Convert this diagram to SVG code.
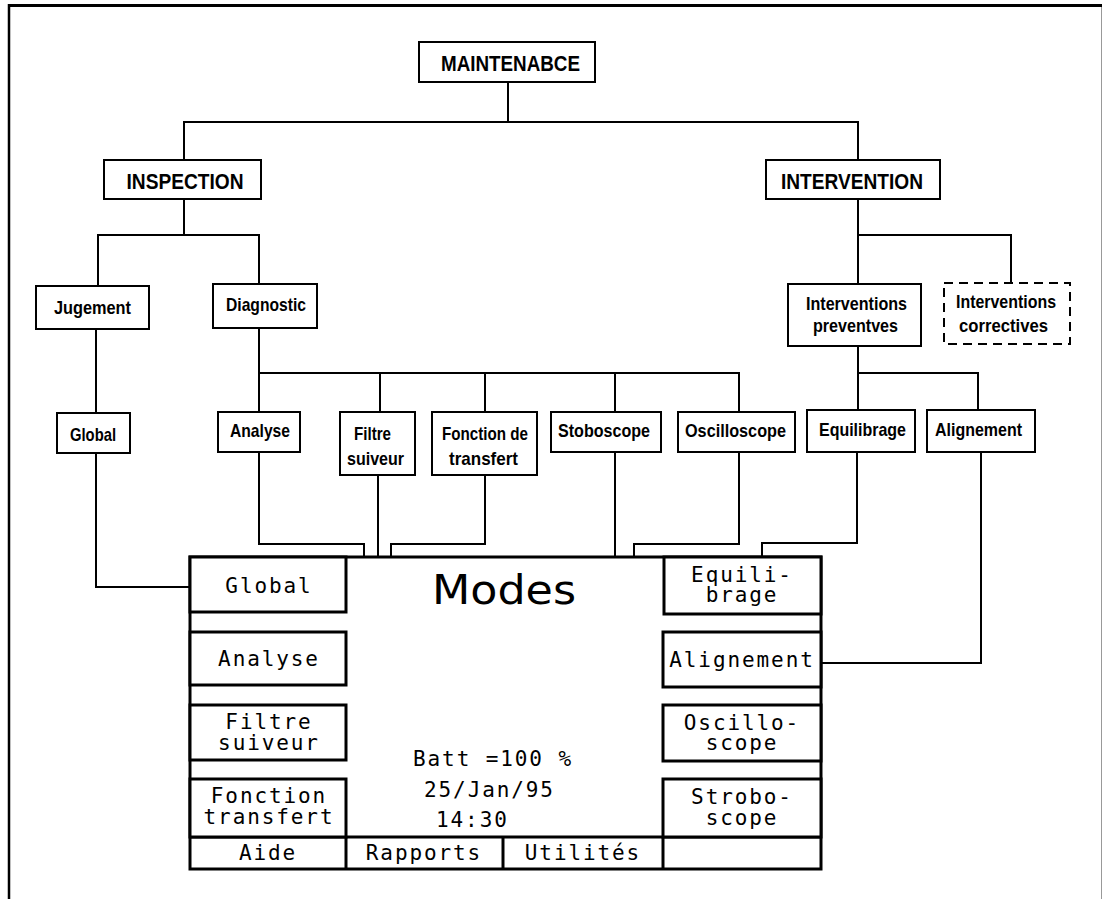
<svg xmlns="http://www.w3.org/2000/svg" width="1102" height="899" viewBox="0 0 1102 899">
<style>
.bx{fill:#fff;stroke:#000;stroke-width:2}
.dash{fill:#fff;stroke:#000;stroke-width:2;stroke-dasharray:9 6}
.btn{fill:#fff;stroke:#000;stroke-width:3}
.lbl{font-family:"Liberation Sans",Arial,sans-serif;font-weight:bold;font-size:19px;text-anchor:middle;fill:#000}
.big{font-size:22px}
.lcd{font-family:"DejaVu Sans Mono","Liberation Mono",monospace;font-size:21px;letter-spacing:1.9px;fill:#000;text-anchor:middle}
.lcds{font-family:"DejaVu Sans Mono","Liberation Mono",monospace;font-size:21px;letter-spacing:1.9px;fill:#000}
.modes{font-family:"DejaVu Sans",sans-serif;font-size:40px;fill:#000}
.cn{fill:none;stroke:#000;stroke-width:2}
</style>
<rect x="0" y="0" width="1102" height="899" fill="#fff"/>
<g id="frame">
<line x1="8" y1="5.5" x2="1102" y2="5.5" stroke="#000" stroke-width="3"/>
<line x1="9" y1="4" x2="9" y2="899" stroke="#000" stroke-width="2.5"/>
<line x1="1101.5" y1="7" x2="1101.5" y2="899" stroke="#999" stroke-width="1"/>
</g>
<g id="connectors">
<path class="cn" d="M508,82 V122 M184,160 V122 H858 V160"/>
<path class="cn" d="M184,199 V235 M98,286 V235 H259 V284"/>
<path class="cn" d="M858,199 V284 M858,235 H1011 V283"/>
<path class="cn" d="M96,329 V413"/>
<path class="cn" d="M96,453 V587 H189"/>
<path class="cn" d="M259,328 V412 M259,373 H739 V412 M380,373 V412 M485,373 V412 M615,373 V412"/>
<path class="cn" d="M259,452 V544 H364 V670 H347"/>
<path class="cn" d="M378,475 V736 H347"/>
<path class="cn" d="M485,475 V544 H391 V809 H347"/>
<path class="cn" d="M615,452 V807 H662"/>
<path class="cn" d="M739,452 V544 H634 V741 H663"/>
<path class="cn" d="M858,346 V410 M858,373 H978 V410"/>
<path class="cn" d="M857,452 V543 H762 V556"/>
<path class="cn" d="M981,452 V663 H822"/>
</g>
<g id="maintenance"><rect class="bx" x="419" y="42" width="176" height="40"/><text class="lbl big" x="510.5" y="71" textLength="139" lengthAdjust="spacingAndGlyphs">MAINTENABCE</text></g>
<g id="inspection"><rect class="bx" x="104" y="160" width="157" height="39"/><text class="lbl big" x="185" y="189" textLength="117" lengthAdjust="spacingAndGlyphs">INSPECTION</text></g>
<g id="intervention"><rect class="bx" x="766" y="160" width="174" height="39"/><text class="lbl big" x="852" y="189" textLength="142" lengthAdjust="spacingAndGlyphs">INTERVENTION</text></g>
<g id="jugement"><rect class="bx" x="36" y="286" width="113" height="43"/><text class="lbl" x="92.5" y="314" textLength="77" lengthAdjust="spacingAndGlyphs">Jugement</text></g>
<g id="diagnostic"><rect class="bx" x="213" y="284" width="104" height="44"/><text class="lbl" x="266" y="311" textLength="80" lengthAdjust="spacingAndGlyphs">Diagnostic</text></g>
<g id="preventives"><rect class="bx" x="788" y="284" width="133" height="62"/><text class="lbl" x="856.5" y="310" textLength="101" lengthAdjust="spacingAndGlyphs">Interventions</text><text class="lbl" x="855.5" y="332" textLength="85" lengthAdjust="spacingAndGlyphs">preventves</text></g>
<g id="correctives"><rect class="dash" x="944" y="283" width="126" height="61"/><text class="lbl" x="1006" y="308" textLength="100" lengthAdjust="spacingAndGlyphs">Interventions</text><text class="lbl" x="1003.5" y="332" textLength="89" lengthAdjust="spacingAndGlyphs">correctives</text></g>
<g id="global-top"><rect class="bx" x="57" y="413" width="73" height="40"/><text class="lbl" x="93" y="441" textLength="46" lengthAdjust="spacingAndGlyphs">Global</text></g>
<g id="analyse-top"><rect class="bx" x="218" y="412" width="82" height="40"/><text class="lbl" x="260" y="437" textLength="60" lengthAdjust="spacingAndGlyphs">Analyse</text></g>
<g id="filtre-top"><rect class="bx" x="340" y="412" width="75" height="63"/><text class="lbl" x="372.5" y="440" textLength="37" lengthAdjust="spacingAndGlyphs">Filtre</text><text class="lbl" x="375.5" y="465" textLength="57" lengthAdjust="spacingAndGlyphs">suiveur</text></g>
<g id="fonction-top"><rect class="bx" x="432" y="412" width="105" height="63"/><text class="lbl" x="485" y="440" textLength="86" lengthAdjust="spacingAndGlyphs">Fonction de</text><text class="lbl" x="483.5" y="465" textLength="69" lengthAdjust="spacingAndGlyphs">transfert</text></g>
<g id="stoboscope-top"><rect class="bx" x="551" y="412" width="110" height="40"/><text class="lbl" x="604" y="437" textLength="92" lengthAdjust="spacingAndGlyphs">Stoboscope</text></g>
<g id="oscilloscope-top"><rect class="bx" x="678" y="412" width="117" height="40"/><text class="lbl" x="735.5" y="437" textLength="101" lengthAdjust="spacingAndGlyphs">Oscilloscope</text></g>
<g id="equilibrage-top"><rect class="bx" x="807" y="410" width="108" height="42"/><text class="lbl" x="862.5" y="436" textLength="87" lengthAdjust="spacingAndGlyphs">Equilibrage</text></g>
<g id="alignement-top"><rect class="bx" x="927" y="410" width="108" height="42"/><text class="lbl" x="978.5" y="436" textLength="87" lengthAdjust="spacingAndGlyphs">Alignement</text></g>
<g id="panel">
<rect class="btn" x="190" y="557" width="631" height="312"/>
<line x1="190" y1="837" x2="821" y2="837" stroke="#000" stroke-width="3"/>
<line x1="346" y1="837" x2="346" y2="869" stroke="#000" stroke-width="3"/>
<line x1="503" y1="837" x2="503" y2="869" stroke="#000" stroke-width="3"/>
<line x1="663" y1="837" x2="663" y2="869" stroke="#000" stroke-width="3"/>
<text class="modes" x="432" y="604" textLength="144" lengthAdjust="spacingAndGlyphs">Modes</text>
<text class="lcds" x="413" y="766">Batt =100 %</text>
<text class="lcds" x="424" y="797">25/Jan/95</text>
<text class="lcds" x="436" y="827">14:30</text>
<text class="lcd" x="268" y="860">Aide</text>
<text class="lcd" x="424" y="860">Rapports</text>
<text class="lcd" x="583" y="860">Utilités</text>
</g>
<g id="btn-global"><rect class="btn" x="190" y="557" width="156" height="55"/><text class="lcd" x="269" y="593">Global</text></g>
<g id="btn-analyse"><rect class="btn" x="190" y="632" width="156" height="53"/><text class="lcd" x="269" y="666">Analyse</text></g>
<g id="btn-filtre"><rect class="btn" x="190" y="705" width="156" height="55"/><text class="lcd" x="269" y="729">Filtre</text><text class="lcd" x="269" y="750">suiveur</text></g>
<g id="btn-fonction"><rect class="btn" x="190" y="779" width="156" height="58"/><text class="lcd" x="269" y="803">Fonction</text><text class="lcd" x="269" y="824">transfert</text></g>
<g id="btn-equilibrage"><rect class="btn" x="664" y="557" width="157" height="57"/><text class="lcd" x="742" y="582">Equili-</text><text class="lcd" x="742" y="602">brage</text></g>
<g id="btn-alignement"><rect class="btn" x="663" y="632" width="158" height="55"/><text class="lcd" x="742" y="667">Alignement</text></g>
<g id="btn-oscillo"><rect class="btn" x="663" y="705" width="158" height="56"/><text class="lcd" x="742" y="730">Oscillo-</text><text class="lcd" x="742" y="750">scope</text></g>
<g id="btn-strobo"><rect class="btn" x="663" y="779" width="158" height="58"/><text class="lcd" x="742" y="804">Strobo-</text><text class="lcd" x="742" y="825">scope</text></g>
</svg>
